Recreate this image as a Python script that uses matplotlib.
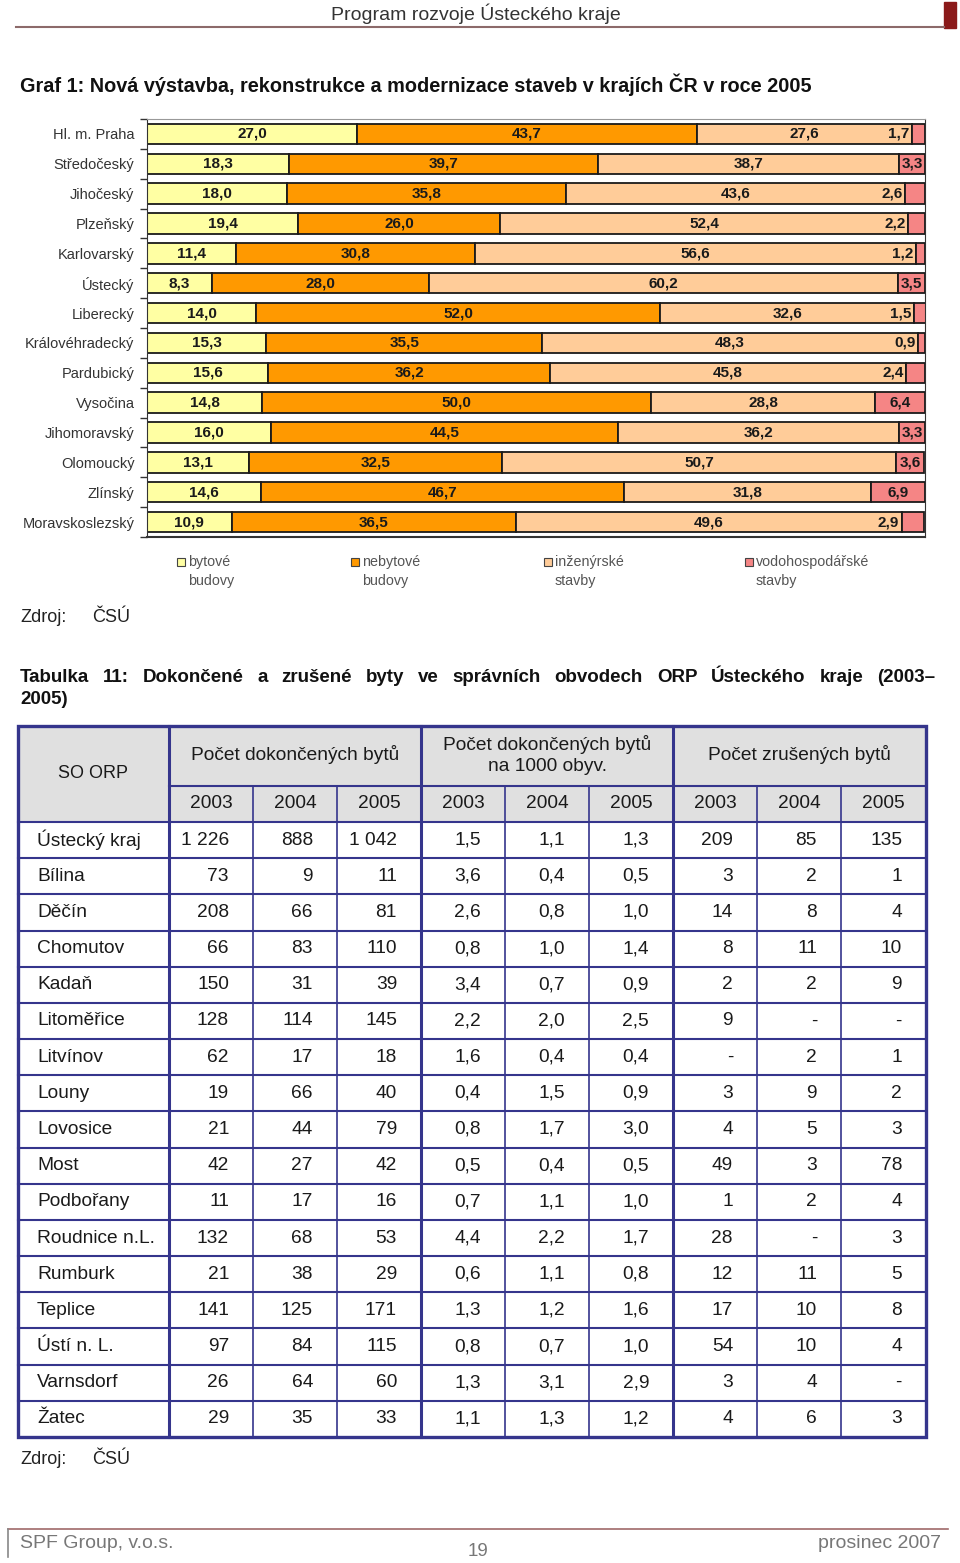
import numpy as np
import matplotlib
matplotlib.use("Agg")
import matplotlib.pyplot as plt
from matplotlib import font_manager
from matplotlib.patches import Rectangle

# fonts: narrow face if it is there, Arial-like otherwise
avail = {f.name for f in font_manager.fontManager.ttflist}
SANS = 'Liberation Sans' if 'Liberation Sans' in avail else 'DejaVu Sans'
NARROW = 'Liberation Sans Narrow' if 'Liberation Sans Narrow' in avail else SANS
plt.rcParams['font.family'] = [SANS, 'DejaVu Sans']

# ---- Graf 1 data (shares in %, 2005) ----
regions = ["Hl. m. Praha", "Středočeský", "Jihočeský", "Plzeňský", "Karlovarský",
           "Ústecký", "Liberecký", "Královéhradecký", "Pardubický", "Vysočina",
           "Jihomoravský", "Olomoucký", "Zlínský", "Moravskoslezský"]
bytove = [27.0, 18.3, 18.0, 19.4, 11.4, 8.3, 14.0, 15.3, 15.6, 14.8, 16.0, 13.1, 14.6, 10.9]
nebytove = [43.7, 39.7, 35.8, 26.0, 30.8, 28.0, 52.0, 35.5, 36.2, 50.0, 44.5, 32.5, 46.7, 36.5]
inzenyrske = [27.6, 38.7, 43.6, 52.4, 56.6, 60.2, 32.6, 48.3, 45.8, 28.8, 36.2, 50.7, 31.8, 49.6]
vodohosp = [1.7, 3.3, 2.6, 2.2, 1.2, 3.5, 1.5, 0.9, 2.4, 6.4, 3.3, 3.6, 6.9, 2.9]
series_names = ["bytové\nbudovy", "nebytové\nbudovy", "inženýrské\nstavby", "vodohospodářské\nstavby"]
series_colors = ["#FFFFA3", "#FF9900", "#FFCC99", "#F58585"]

# ---- Tabulka 11 data ----
orp = ["Ústecký kraj", "Bílina", "Děčín", "Chomutov", "Kadaň", "Litoměřice", "Litvínov",
       "Louny", "Lovosice", "Most", "Podbořany", "Roudnice n.L.", "Rumburk", "Teplice",
       "Ústí n. L.", "Varnsdorf", "Žatec"]
years = ["2003", "2004", "2005"]
group_heads = ["Počet dokončených bytů", "Počet dokončených bytů\nna 1000 obyv.", "Počet zrušených bytů"]
dokoncene = [["1 226", "888", "1 042"], ["73", "9", "11"], ["208", "66", "81"], ["66", "83", "110"],
             ["150", "31", "39"], ["128", "114", "145"], ["62", "17", "18"], ["19", "66", "40"],
             ["21", "44", "79"], ["42", "27", "42"], ["11", "17", "16"], ["132", "68", "53"],
             ["21", "38", "29"], ["141", "125", "171"], ["97", "84", "115"], ["26", "64", "60"],
             ["29", "35", "33"]]
na1000 = [["1,5", "1,1", "1,3"], ["3,6", "0,4", "0,5"], ["2,6", "0,8", "1,0"], ["0,8", "1,0", "1,4"],
          ["3,4", "0,7", "0,9"], ["2,2", "2,0", "2,5"], ["1,6", "0,4", "0,4"], ["0,4", "1,5", "0,9"],
          ["0,8", "1,7", "3,0"], ["0,5", "0,4", "0,5"], ["0,7", "1,1", "1,0"], ["4,4", "2,2", "1,7"],
          ["0,6", "1,1", "0,8"], ["1,3", "1,2", "1,6"], ["0,8", "0,7", "1,0"], ["1,3", "3,1", "2,9"],
          ["1,1", "1,3", "1,2"]]
zrusene = [["209", "85", "135"], ["3", "2", "1"], ["14", "8", "4"], ["8", "11", "10"],
           ["2", "2", "9"], ["9", "-", "-"], ["-", "2", "1"], ["3", "9", "2"],
           ["4", "5", "3"], ["49", "3", "78"], ["1", "2", "4"], ["28", "-", "3"],
           ["12", "11", "5"], ["17", "10", "8"], ["54", "10", "4"], ["3", "4", "-"],
           ["4", "6", "3"]]

W, H = 960, 1563
fig = plt.figure(figsize=(W / 100, H / 100), dpi=100)

# overlay in pixel coordinates for page text and the table
ov = fig.add_axes([0, 0, 1, 1])
ov.set_xlim(0, W)
ov.set_ylim(H, 0)
ov.axis('off')

# page header
ov.text(476, 14, "Program rozvoje Ústeckého kraje", ha='center', va='center',
        fontsize=14, color='#333333', family=[NARROW, SANS])
ov.plot([16, 944], [27, 27], color='#8C6A6A', lw=1.5)
ov.add_patch(Rectangle((944, 2), 12, 26, color='#8B1A1A'))

ov.text(20, 85, "Graf 1: Nová výstavba, rekonstrukce a modernizace staveb v krajích ČR v roce 2005",
        ha='left', va='center', fontsize=14.3, fontweight='bold', color='#111111',
        family=[NARROW, SANS])

# ---- stacked bar chart ----
ax = fig.add_axes([147 / W, (H - 537) / H, 778 / W, (537 - 119) / H])
y = np.arange(len(regions))
left = np.zeros(len(regions))
for vals, col in zip([bytove, nebytove, inzenyrske, vodohosp], series_colors):
    vals = np.array(vals)
    ax.barh(y, vals, left=left, height=0.68, color=col, edgecolor='#1a1a1a', lw=1.3)
    for yi, l, v in zip(y, left, vals):
        lab = f"{v:.1f}".replace('.', ',')
        if v < 3.0:
            ax.text(l - 0.3, yi, lab, ha='right', va='center', fontsize=11,
                    fontweight='bold', color='#1a1a1a', family=[NARROW, SANS])
        else:
            ax.text(l + v / 2, yi, lab, ha='center', va='center', fontsize=11,
                    fontweight='bold', color='#1a1a1a', family=[NARROW, SANS])
    left += vals

ax.set_xlim(0, 100)
ax.set_ylim(len(regions) - 0.5, -0.5)
ax.xaxis.set_visible(False)
ax.set_yticks(y)
ax.set_yticklabels(regions, fontsize=10.5, color='#333333')
ax.set_yticks(np.arange(-0.5, len(regions), 1), minor=True)
ax.tick_params(axis='y', which='major', length=0, pad=9)
ax.tick_params(axis='y', which='minor', length=5, color='#333333', width=1)
ax.spines['top'].set_color('#999999')
ax.spines['right'].set_color('#333333')
ax.spines['bottom'].set_color('#333333')
ax.spines['bottom'].set_linewidth(1.5)
ax.spines['left'].set_color('#333333')
ax.set_facecolor('white')

# legend, drawn by hand (square beside first line)
leg_x = [181, 355, 548, 749]
for lx, name, col in zip(leg_x, series_names, series_colors):
    ov.add_patch(Rectangle((lx - 4, 558), 8, 8, facecolor=col, edgecolor='#444444', lw=0.8))
    l1, l2 = name.split('\n')
    ov.text(lx + 7, 562, l1, ha='left', va='center', fontsize=10.3, color='#555555')
    ov.text(lx + 7, 581, l2, ha='left', va='center', fontsize=10.3, color='#555555')

ov.text(20, 617, "Zdroj:", ha='left', va='center', fontsize=13, color='#222222')
ov.text(92, 617, "ČSÚ", ha='left', va='center', fontsize=13, color='#222222')

# table title, justified on first line
renderer = fig.canvas.get_renderer()
words = "Tabulka 11: Dokončené a zrušené byty ve správních obvodech ORP Ústeckého kraje (2003–".split()
tw = [ov.text(0, 677, w, ha='left', va='center', fontsize=13.5, fontweight='bold',
              color='#111111', family=[NARROW, SANS]) for w in words]
widths = [t.get_window_extent(renderer).width for t in tw]
gap = (935 - 20 - sum(widths)) / (len(words) - 1)
x = 20
for t, w in zip(tw, widths):
    t.set_x(x)
    x += w + gap
ov.text(20, 700, "2005)", ha='left', va='center', fontsize=13.5, fontweight='bold',
        color='#111111', family=[NARROW, SANS])

# ---- table ----
navy = '#35358C'
cx = [18, 169, 253, 337, 421, 505, 589, 673, 757, 841, 926]
top, h1, h2 = 726, 786, 822
bottom = 1437
rh = (bottom - h2) / len(orp)
ov.add_patch(Rectangle((cx[0], top), cx[-1] - cx[0], h2 - top, facecolor='#E0E0E0', edgecolor='none'))

# horizontal lines
ov.plot([cx[1], cx[-1]], [h1, h1], color=navy, lw=1.5)
for i in range(len(orp)):
    yy = h2 + i * rh
    ov.plot([cx[0], cx[-1]], [yy, yy], color=navy, lw=1.5)
# vertical lines
for j, xx in enumerate(cx[1:-1], start=1):
    thick = j in (1, 4, 7)
    y0 = top if thick else h1
    ov.plot([xx, xx], [y0, bottom], color=navy, lw=2.2 if thick else 1.2)
ov.add_patch(Rectangle((cx[0], top), cx[-1] - cx[0], bottom - top, facecolor='none',
                       edgecolor=navy, lw=2.4))

tcol = '#1a1a1a'
ov.text((cx[0] + cx[1]) / 2, (top + h2) / 2, "SO ORP", ha='center', va='center',
        fontsize=13, color=tcol, family=[NARROW, SANS])
for g, head in enumerate(group_heads):
    xc = (cx[1 + 3 * g] + cx[4 + 3 * g]) / 2
    ov.text(xc, (top + h1) / 2 - 1, head, ha='center', va='center', fontsize=13.8,
            color=tcol, linespacing=1.25)
    for k, yr in enumerate(years):
        c = 1 + 3 * g + k
        ov.text((cx[c] + cx[c + 1]) / 2, (h1 + h2) / 2, yr, ha='center', va='center',
                fontsize=13.8, color=tcol)

for i, name in enumerate(orp):
    yc = h2 + (i + 0.5) * rh
    ov.text(37, yc, name, ha='left', va='center', fontsize=13.8, color=tcol)
    cells = dokoncene[i] + na1000[i] + zrusene[i]
    for c, val in enumerate(cells, start=1):
        ov.text(cx[c + 1] - 24, yc, val, ha='right', va='center', fontsize=13.8, color=tcol)

ov.text(20, 1459, "Zdroj:", ha='left', va='center', fontsize=13, color='#222222')
ov.text(92, 1459, "ČSÚ", ha='left', va='center', fontsize=13, color='#222222')

# page footer
ov.plot([8, 948], [1529, 1529], color='#A06A6A', lw=1.2)
ov.plot([8, 8], [1529, 1557], color='#888888', lw=1.2)
ov.text(20, 1543, "SPF Group, v.o.s.", ha='left', va='center', fontsize=14, color='#777777')
ov.text(478, 1552, "19", ha='center', va='center', fontsize=13.5, color='#777777')
ov.text(941, 1543, "prosinec 2007", ha='right', va='center', fontsize=14, color='#777777')

fig.savefig("out.png", dpi=100)
